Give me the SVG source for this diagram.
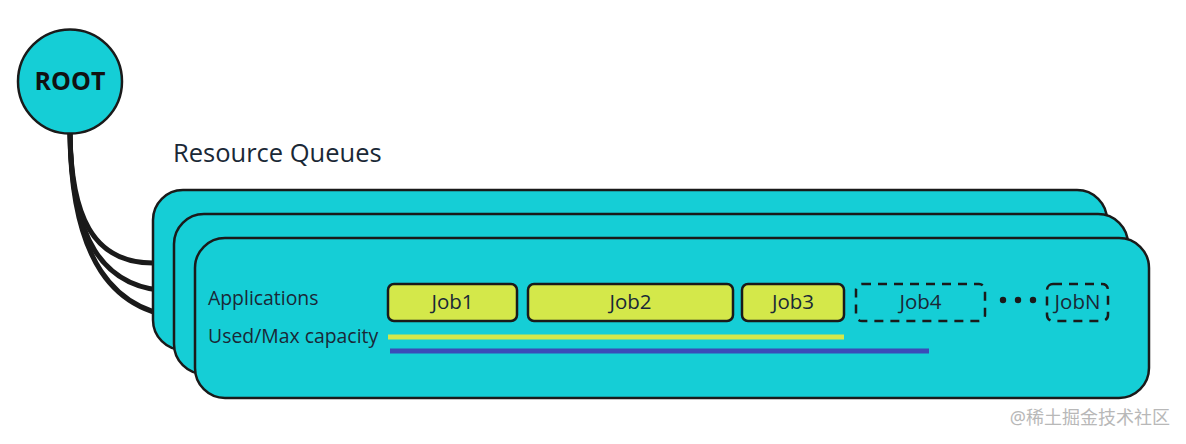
<svg xmlns="http://www.w3.org/2000/svg" width="1186" height="444" viewBox="0 0 1186 444">
<style>
.q{fill:#15ced6;stroke:#1a1a1a;stroke-width:2.5}
.job{fill:#d4e84a;stroke:#1a1a1a;stroke-width:2.5}
.dash{fill:none;stroke:#1a1a1a;stroke-width:2.5;stroke-dasharray:9 7}
.conn{fill:none;stroke:#1a1a1a;stroke-width:5}
text{font-family:"Open Sans","Noto Sans",sans-serif;fill:#1a2836}
.lbl{font-size:19.4px}
.jt{font-size:20.5px;text-anchor:middle}
</style>
<rect width="1186" height="444" fill="#ffffff"/>
<g id="connectors">
<path class="conn" d="M70,133 C71,215 92,263 153,263"/>
<path class="conn" d="M70,133 C71,235 100,291 174,291"/>
<path class="conn" d="M70,133 C71,255 110,318 195,318"/>
</g>
<g id="root">
<circle cx="70" cy="81.5" r="52" fill="#15ced6" stroke="#1a1a1a" stroke-width="2.5"/>
<text x="70" y="90" text-anchor="middle" style="font-size:25px;font-weight:bold;fill:#111">ROOT</text>
</g>
<text x="173" y="162" style="font-size:25.5px">Resource Queues</text>
<g id="queue1"><rect class="q" x="153" y="190" width="954" height="160" rx="30"/></g>
<g id="queue2"><rect class="q" x="174" y="214" width="954" height="160" rx="30"/></g>
<g id="queue3">
<rect class="q" x="195" y="238" width="954" height="160" rx="30"/>
<text class="lbl" x="208" y="305">Applications</text>
<text class="lbl" x="208" y="343">Used/Max capacity</text>
<line x1="388" y1="337" x2="844" y2="337" stroke="#d4e84a" stroke-width="5"/>
<line x1="390" y1="351" x2="929" y2="351" stroke="#3b4bb8" stroke-width="5"/>
<circle cx="1003" cy="300" r="3.2" fill="#1a1a1a"/>
<circle cx="1018" cy="300" r="3.2" fill="#1a1a1a"/>
<circle cx="1033" cy="300" r="3.2" fill="#1a1a1a"/>
</g>
<g id="job1"><rect class="job" x="388" y="284" width="129" height="37" rx="6"/><text class="jt" x="452.5" y="309">Job1</text></g>
<g id="job2"><rect class="job" x="528" y="284" width="205" height="37" rx="6"/><text class="jt" x="630.5" y="309">Job2</text></g>
<g id="job3"><rect class="job" x="742" y="284" width="102" height="37" rx="6"/><text class="jt" x="793" y="309">Job3</text></g>
<g id="job4"><rect class="dash" x="856" y="284" width="129" height="37" rx="6"/><text class="jt" x="920.5" y="309">Job4</text></g>
<g id="jobN"><rect class="dash" x="1047" y="284" width="61" height="37" rx="6"/><text class="jt" x="1077.5" y="309">JobN</text></g>
<text x="1170" y="424" text-anchor="end" style="font-family:'Noto Sans','Noto Sans CJK SC',sans-serif;font-size:18px;fill:#b8b8b8">@稀土掘金技术社区</text>
</svg>
